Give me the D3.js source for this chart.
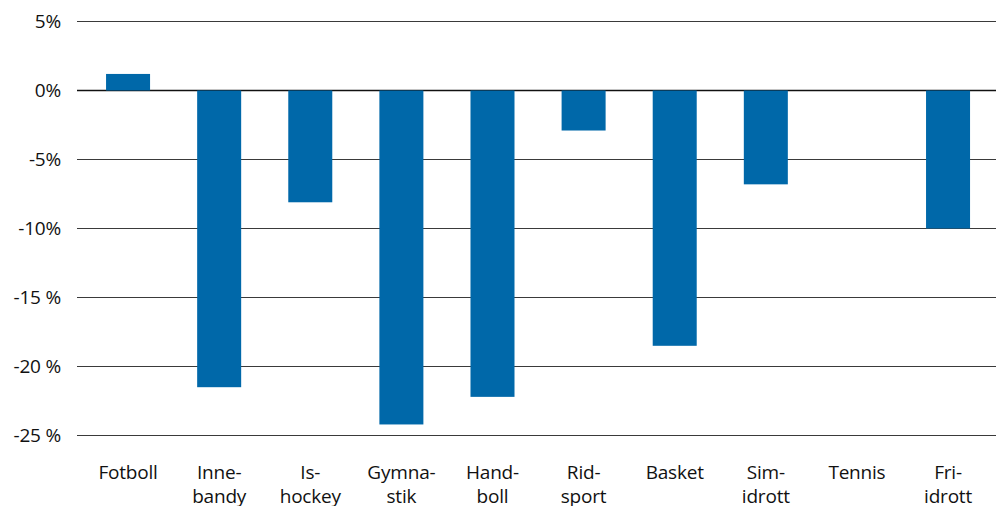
<!DOCTYPE html>
<html>
<head>
<meta charset="utf-8">
<script src="https://cdn.jsdelivr.net/npm/d3@7"></script>
<style>
  html, body { margin: 0; padding: 0; background: #fff; }
  svg { display: block; }
  text { font-family: "Open Sans", Lato, sans-serif; fill: #111; }
</style>
</head>
<body>
<svg id="chart" width="996" height="506"></svg>
<script>
// Change in members per sport (per cent)
const categories = ["Fotboll", "Innebandy", "Ishockey", "Gymnastik", "Handboll", "Ridsport", "Basket", "Simidrott", "Tennis", "Friidrott"];
const categoryLines = [["Fotboll"], ["Inne-", "bandy"], ["Is-", "hockey"], ["Gymna-", "stik"], ["Hand-", "boll"], ["Rid-", "sport"], ["Basket"], ["Sim-", "idrott"], ["Tennis"], ["Fri-", "idrott"]];
const values = [1.2, -21.5, -8.1, -24.2, -22.2, -2.9, -18.5, -6.8, 0, -10.0];
const tickValues = [5, 0, -5, -10, -15, -20, -25];
const tickLabels = ["5%", "0%", "-5%", "-10%", "-15 %", "-20 %", "-25 %"];

const svg = d3.select("#chart");

const x = d3.scaleBand()
  .domain(categories)
  .range([82.5, 993.6])
  .paddingInner(0.517)
  .paddingOuter(0.2585);

const y = d3.scaleLinear()
  .domain([5, -25])
  .range([21, 435]);

// Horizontal grid lines
const grid = svg.append("g");
grid.selectAll("line")
  .data(tickValues)
  .join("line")
  .attr("x1", 77)
  .attr("x2", 996)
  .attr("y1", d => y(d) + 0.5)
  .attr("y2", d => y(d) + 0.5)
  .attr("stroke", d => d === 0 ? "#111" : "#3a3a3a")
  .attr("stroke-width", d => d === 0 ? 1.4 : 1.2);

// Y axis labels
svg.append("g")
  .selectAll("text")
  .data(tickValues)
  .join("text")
  .attr("x", 61)
  .attr("y", d => y(d) + 0.5)
  .attr("dy", "0.36em")
  .attr("text-anchor", "end")
  .attr("font-size", 19)
  .attr("letter-spacing", "-0.2")
  .text((d, i) => tickLabels[i]);

// Bars
svg.append("g")
  .selectAll("rect")
  .data(categories)
  .join("rect")
  .attr("x", d => x(d))
  .attr("width", x.bandwidth())
  .attr("y", (d, i) => y(Math.max(0, values[i])) + 0.5)
  .attr("height", (d, i) => Math.abs(y(values[i]) - y(0)))
  .attr("fill", "#0068a9");

// Category labels (hyphenated over two lines)
const labels = svg.append("g")
  .selectAll("text")
  .data(categories)
  .join("text")
  .attr("x", d => x(d) + x.bandwidth() / 2)
  .attr("y", 479)
  .attr("text-anchor", "middle")
  .attr("font-size", 19)
  .attr("letter-spacing", "-0.2");

labels.each(function(d, i) {
  const t = d3.select(this);
  categoryLines[i].forEach((line, j) => {
    t.append("tspan")
      .attr("x", x(d) + x.bandwidth() / 2)
      .attr("dy", j === 0 ? 0 : 24)
      .text(line);
  });
});
</script>
</body>
</html>
